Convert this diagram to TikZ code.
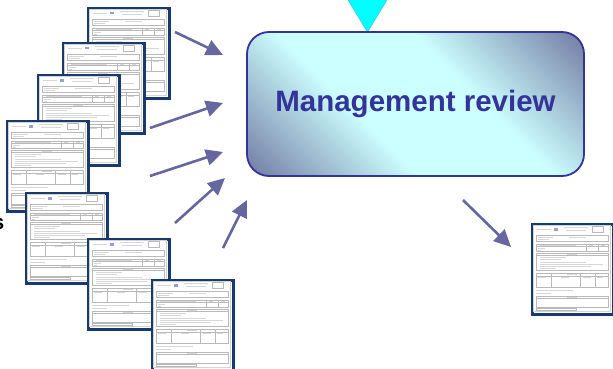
\documentclass[tikz,border=0pt]{standalone}
\usepackage{fontspec}
\setmainfont{Liberation Sans}
\usetikzlibrary{arrows.meta}

\definecolor{docedge}{RGB}{24,58,108}
\definecolor{formline}{RGB}{185,185,185}
\definecolor{formtext}{RGB}{215,215,215}
\definecolor{logoblue}{RGB}{150,160,215}
\definecolor{arrowcol}{RGB}{102,102,160}
\definecolor{boxedge}{RGB}{51,51,153}
\definecolor{boxdark}{RGB}{104,108,152}
\definecolor{boxlight}{RGB}{204,255,255}
\definecolor{trifill}{RGB}{0,255,255}
\definecolor{triedge}{RGB}{60,210,255}
\definecolor{titlecol}{RGB}{51,51,153}

% diagonal fill of the review box: dark corners, light band
\pgfdeclareverticalshading{reviewshade}{100bp}{color(0bp)=(boxdark); color(12bp)=(boxdark); color(40bp)=(boxlight); color(60bp)=(boxlight); color(88bp)=(boxdark); color(100bp)=(boxdark)}

\tikzset{
  docpage/.style={draw=docedge, line width=2.6pt, fill=white,
    minimum width=81pt, minimum height=90pt, inner sep=0pt, anchor=north west},
  flow/.style={draw=arrowcol, line width=2.6pt,
    -{Triangle[length=17pt,width=16pt]}},
  fbox/.style={draw=formline, line width=0.4pt},
  ftext/.style={draw=formtext, line width=0.9pt},
  % a small filled-in form, drawn from the page's top left corner
  formpage/.pic={
    \draw[gray!35, line width=0.4pt] (2.2,2.2) rectangle (78.8,87.8);
    % header
    \draw[ftext] (6,6) -- (20,6);
    \fill[logoblue] (23,5) rectangle (27,7.5);
    \draw[ftext] (33,4.5) -- (57,4.5) (35,7.5) -- (55,7.5);
    \draw[fbox] (61,3.5) rectangle (72,9);
    % identification block
    \draw[fbox] (5,12) rectangle (77,18);
    \draw[ftext] (7,14) -- (22,14) (38,14) -- (55,14) (7,16.5) -- (18,16.5);
    % small table
    \draw[fbox] (5,21) rectangle (77,28) (55,21) -- (55,28) (67,21) -- (67,28)
      (5,23.5) -- (77,23.5);
    \draw[ftext] (9,22.3) -- (45,22.3) (7,25) -- (14,25) (7,27) -- (10,27)
      (58,22.3) -- (62,22.3) (70,22.3) -- (74,22.3);
    % checklist
    \draw[fbox] (5,30) rectangle (77,47) (5,32.5) -- (77,32.5);
    \draw[ftext] (36,31.3) -- (46,31.3);
    \draw[ftext] (9,34.5) -- (35,34.5) (9,36.8) -- (30,36.8) (9,39.1) -- (55,39.1)
      (9,41.4) -- (72,41.4) (9,43.7) -- (60,43.7) (9,45.8) -- (25,45.8);
    % results table
    \draw[fbox] (5,50) rectangle (77,64) (5,53) -- (77,53)
      (20,50) -- (20,64) (49,50) -- (49,64) (64,50) -- (64,64);
    \draw[ftext] (36,51.5) -- (46,51.5) (7,54.5) -- (15,54.5) (30,54.5) -- (38,54.5)
      (52,54.5) -- (60,54.5) (66,54.5) -- (72,54.5);
    % remarks
    \draw[ftext] (5,67) -- (42,67) (5,70) -- (20,70);
    \draw[fbox] (5,73) rectangle (77,84) (5,75.5) -- (77,75.5);
    \draw[ftext] (36,74.3) -- (46,74.3);
    % signature line
    \draw[fbox] (5,85.5) rectangle (45,87.3);
    \draw[ftext] (55,88.2) -- (76,88.2);
  }
}

\begin{document}
\begin{tikzpicture}[x=1pt, y=-1pt]
  \useasboundingbox (0,0) rectangle (613,369);
  \clip (0,0) rectangle (613,369);

  % label running in from the left edge
  \node[font=\bfseries\fontsize{21pt}{21pt}\selectfont, anchor=base east,
        inner sep=0pt] (lbl) at (4.5,229) {s};

  % stack of input records
  \foreach \n/\px/\py in {1/87/7, 2/62/42, 3/37/74, 4/6/120,
                         5/25/192, 6/87/238, 7/151/279} {
    \node[docpage] (d\n) at (\px,\py) {};
    \pic at (d\n.north west) {formpage};
  }

  % output record
  \node[docpage] (dout) at (531,223) {};
  \pic at (dout.north west) {formpage};

  % incoming pointer from above
  \draw[draw=triedge, fill=trifill, line width=0.8pt]
    (345,-5) -- (390,-5) -- (367.5,32) -- cycle;

  % review box
  \node[draw=boxedge, line width=1.8pt, rounded corners=22pt,
        shade, shading=reviewshade, shading angle=-45,
        minimum width=337pt, minimum height=144pt,
        font=\bfseries\fontsize{29.5pt}{30pt}\selectfont, text=titlecol]
    (review) at (415.5,104) {Management review};

  % connectors
  \coordinate (i1) at (175,32);  \coordinate (o1) at (223,55);
  \coordinate (i2) at (150,128); \coordinate (o2) at (223,103);
  \coordinate (i3) at (150,176); \coordinate (o3) at (223,152);
  \coordinate (i4) at (175,223); \coordinate (o4) at (225,178);
  \coordinate (i5) at (223,248); \coordinate (o5) at (247,200);
  \coordinate (i6) at (463,200); \coordinate (o6) at (511,247);
  \foreach \k in {1,...,6} {
    \draw[flow] (i\k) -- (o\k);
  }
\end{tikzpicture}
\end{document}
